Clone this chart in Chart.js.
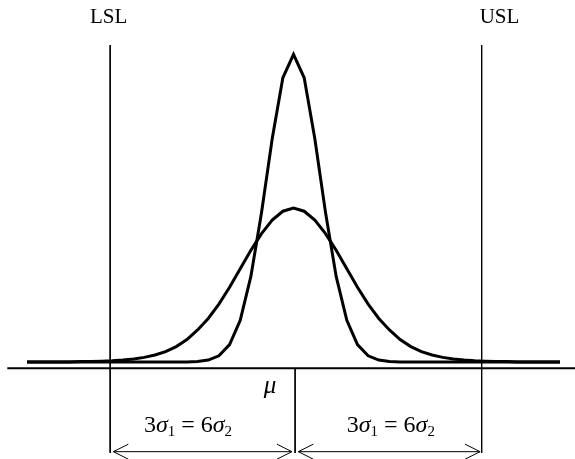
<!DOCTYPE html>
<html lang="en">
<head>
  <meta charset="UTF-8">
  <title>LSL / USL</title>
  <script src="https://cdn.jsdelivr.net/npm/chart.js"></script>
  <style>
    html, body { margin: 0; padding: 0; background: #fff; }
    #wrap { width: 575px; height: 459px; }
  </style>
</head>
<body>
<div id="wrap"><canvas id="chart"></canvas></div>

<script>
  // x in units of sigma1, step 0.2
  const xValues = [-5, -4.8, -4.6, -4.4, -4.2, -4, -3.8, -3.6, -3.4, -3.2, -3, -2.8, -2.6, -2.4, -2.2, -2, -1.8, -1.6, -1.4, -1.2, -1, -0.8, -0.6, -0.4, -0.2,
                   0, 0.2, 0.4, 0.6, 0.8, 1, 1.2, 1.4, 1.6, 1.8, 2, 2.2, 2.4, 2.6, 2.8, 3, 3.2, 3.4, 3.6, 3.8, 4, 4.2, 4.4, 4.6, 4.8, 5];
  const wideCurve = [0, 0, 0, 0, 0, 0.001, 0.001, 0.002, 0.003, 0.005, 0.008, 0.012, 0.018, 0.027, 0.040, 0.058, 0.083, 0.113, 0.150, 0.194, 0.242, 0.290, 0.333, 0.368, 0.391,
                     0.399, 0.391, 0.368, 0.333, 0.290, 0.242, 0.194, 0.150, 0.113, 0.083, 0.058, 0.040, 0.027, 0.018, 0.012, 0.008, 0.005, 0.003, 0.002, 0.001, 0.001, 0, 0, 0, 0, 0];
  const narrowCurve = [0, 0, 0, 0, 0, 0, 0, 0, 0, 0, 0, 0, 0, 0, 0, 0, 0.001, 0.005, 0.016, 0.045, 0.108, 0.222, 0.388, 0.579, 0.737,
                       0.798, 0.737, 0.579, 0.388, 0.222, 0.108, 0.045, 0.016, 0.005, 0.001, 0, 0, 0, 0, 0, 0, 0, 0, 0, 0, 0, 0, 0, 0, 0, 0];
  const limitValues = [-3.44, 3.53];
  const limitNames = ['LSL', 'USL'];
  const meanValue = 0.03;

  // geometry of the sketch (data units)
  const axisY = -0.016;
  const axisStart = -5.37;
  const limitTop = 0.822;
  const dimBottom = -0.236;
  const arrowY = -0.2326;

  function seg(x1, y1, x2, y2) {
    return [{x: x1, y: y1}, {x: x2, y: y2}];
  }

  function lineSet(data, width) {
    return {
      data: data,
      showLine: true,
      borderColor: '#000',
      borderWidth: width,
      pointRadius: 0,
      tension: 0
    };
  }

  const datasets = [
    lineSet(xValues.map((x, i) => ({x: x, y: wideCurve[i]})), 3),
    lineSet(xValues.map((x, i) => ({x: x, y: narrowCurve[i]})), 3),
    lineSet(seg(axisStart, axisY, 5.3, axisY), 2),
    lineSet(seg(limitValues[0], limitTop, limitValues[0], dimBottom), 1),
    lineSet(seg(limitValues[1], limitTop, limitValues[1], dimBottom), 1),
    lineSet(seg(meanValue, axisY, meanValue, dimBottom), 1),
    lineSet(seg(limitValues[0] + 0.06, arrowY, meanValue - 0.06, arrowY), 1),
    lineSet(seg(meanValue + 0.06, arrowY, limitValues[1] - 0.03, arrowY), 1)
  ];

  // arrow heads and texts
  const sketchText = {
    id: 'sketchText',
    afterDatasetsDraw(chart) {
      const ctx = chart.ctx;
      const xs = chart.scales.x, ys = chart.scales.y;
      const px = v => xs.getPixelForValue(v);
      const py = v => ys.getPixelForValue(v);
      ctx.save();
      ctx.strokeStyle = '#000';
      ctx.fillStyle = '#000';
      ctx.lineWidth = 1;

      // chevrons
      const heads = [
        [limitValues[0] + 0.06, 1], [meanValue - 0.06, -1],
        [meanValue + 0.06, 1], [limitValues[1] - 0.03, -1]
      ];
      heads.forEach(([v, dir]) => {
        const tx = px(v), ty = py(arrowY);
        ctx.beginPath();
        ctx.moveTo(tx + dir * 15, ty - 7.5);
        ctx.lineTo(tx, ty);
        ctx.lineTo(tx + dir * 15, ty + 7.5);
        ctx.stroke();
      });

      ctx.textAlign = 'center';
      ctx.textBaseline = 'alphabetic';
      ctx.font = '21px "Liberation Serif", "Times New Roman", serif';
      ctx.fillText(limitNames[0], px(-3.47), py(0.88));
      ctx.fillText(limitNames[1], px(3.865), py(0.88));

      ctx.font = 'italic 25px "Liberation Serif", "Times New Roman", serif';
      ctx.fillText('\u03bc', px(-0.44), py(-0.08));

      // 3σ1 = 6σ2
      const parts = [
        ['3', '', 24, 0], ['\u03c3', 'italic ', 24, 0], ['1', '', 15, 4],
        [' = 6', '', 24, 0], ['\u03c3', 'italic ', 24, 0], ['2', '', 15, 4]
      ];
      const fontOf = p => p[1] + p[2] + 'px "Liberation Serif", "Times New Roman", serif';
      let total = 0;
      parts.forEach(p => { ctx.font = fontOf(p); total += ctx.measureText(p[0]).width; });
      ctx.textAlign = 'left';
      [-1.98, 1.825].forEach(cx => {
        let x = px(cx) - total / 2;
        const base = py(-0.181);
        parts.forEach(p => {
          ctx.font = fontOf(p);
          ctx.fillText(p[0], x, base + p[3]);
          x += ctx.measureText(p[0]).width;
        });
      });
      ctx.restore();
    }
  };

  new Chart(document.getElementById('chart'), {
    type: 'scatter',
    data: { datasets: datasets },
    options: {
      responsive: true,
      maintainAspectRatio: false,
      animation: false,
      layout: { padding: 0 },
      scales: {
        x: { type: 'linear', display: false, min: -5.507, max: 5.281 },
        y: { type: 'linear', display: false, min: -0.2516, max: 0.9388 }
      },
      plugins: {
        legend: { display: false },
        tooltip: { enabled: false }
      }
    },
    plugins: [sketchText]
  });
</script>
</body>
</html>
